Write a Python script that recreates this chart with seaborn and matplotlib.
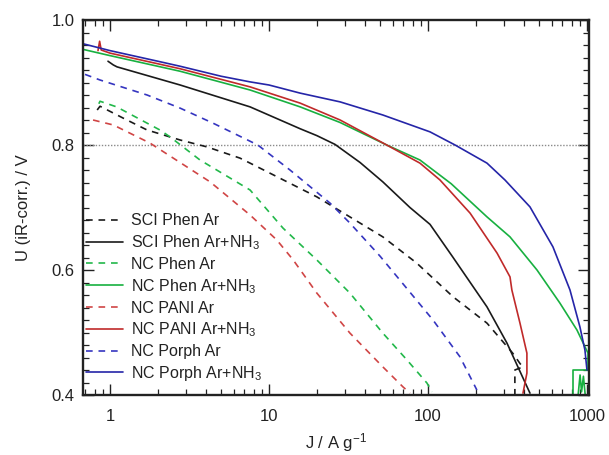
import numpy as np
import pandas as pd
import matplotlib
matplotlib.use("Agg")
import matplotlib.pyplot as plt
import matplotlib.ticker as mticker
import seaborn as sns

# ---------------- data ----------------
sci_ar_J = [0.83, 0.865, 1.21, 1.71, 2.76, 4.07, 6.57, 7.6, 20, 52, 85, 144, 235, 341, 380, 396, 352, 352]
sci_ar_U = [0.856, 0.862, 0.843, 0.824, 0.808, 0.797, 0.779, 0.771, 0.717, 0.653, 0.611, 0.557, 0.515, 0.467, 0.450, 0.445, 0.440, 0.400]

sci_nh3_J = [0.971, 1.05, 1.107, 2.76, 7.6, 15.7, 20, 26, 37.4, 52, 77, 103, 143, 235, 314, 438]
sci_nh3_U = [0.934, 0.928, 0.925, 0.896, 0.861, 0.826, 0.815, 0.801, 0.772, 0.741, 0.700, 0.673, 0.621, 0.541, 0.483, 0.403]

phen_ar_J = [0.85, 0.865, 1.1, 2.06, 2.385, 3.68, 7.6, 12.25, 20, 32.3, 52, 73.8, 98.6, 106]
phen_ar_U = [0.866, 0.870, 0.861, 0.824, 0.813, 0.776, 0.728, 0.667, 0.616, 0.563, 0.499, 0.456, 0.419, 0.405]

phen_nh3_J = [0.676, 1.0, 2.76, 7.6, 15.7, 28, 55, 89, 140, 235, 328, 485, 676, 865, 1015,
              1015, 817, 817, 880, 905, 925, 950, 975]
phen_nh3_U = [0.953, 0.943, 0.918, 0.888, 0.861, 0.836, 0.800, 0.776, 0.738, 0.685, 0.653, 0.600, 0.547, 0.504, 0.467,
              0.440, 0.440, 0.400, 0.400, 0.432, 0.405, 0.430, 0.400]

pani_ar_J = [0.782, 1.05, 1.785, 4.26, 7.6, 11.2, 14.2, 20, 32.3, 52, 69.6, 77.1]
pani_ar_U = [0.840, 0.832, 0.803, 0.741, 0.688, 0.648, 0.616, 0.563, 0.499, 0.445, 0.413, 0.403]

pani_nh3_J = [0.84, 0.86, 0.88, 1.0, 2.76, 7.6, 15.7, 28, 55, 89, 119, 184, 272, 328, 337, 379, 419, 419, 396]
pani_nh3_U = [0.951, 0.966, 0.952, 0.947, 0.922, 0.893, 0.867, 0.840, 0.800, 0.771, 0.744, 0.691, 0.627, 0.589, 0.568, 0.515, 0.467, 0.435, 0.403]

porph_ar_J = [0.696, 0.865, 1.71, 2.76, 4.44, 8.5, 13.55, 24.2, 32.3, 50, 107.5, 159, 203]
porph_ar_U = [0.913, 0.904, 0.880, 0.859, 0.835, 0.800, 0.760, 0.707, 0.675, 0.622, 0.520, 0.461, 0.408]

porph_nh3_J = [0.676, 1.0, 2.0, 2.76, 5, 7.6, 10, 15.7, 28, 52, 103, 148, 235, 305, 438, 611, 782, 903, 971, 1000]
porph_nh3_U = [0.962, 0.951, 0.934, 0.926, 0.910, 0.901, 0.896, 0.883, 0.869, 0.848, 0.821, 0.800, 0.771, 0.744, 0.701, 0.637, 0.568, 0.509, 0.472, 0.440]

labels = ["SCI Phen Ar", "SCI Phen Ar+NH$_3$",
          "NC Phen Ar", "NC Phen Ar+NH$_3$",
          "NC PANI Ar", "NC PANI Ar+NH$_3$",
          "NC Porph Ar", "NC Porph Ar+NH$_3$"]

x_ticks = [1, 10, 100, 1000]
x_ticklabels = ["1", "10", "100", "1000"]
y_ticks = [0.4, 0.6, 0.8, 1.0]

# ---------------- style ----------------
sns.set_style("ticks")
plt.rcParams["font.family"] = ["Liberation Sans", "DejaVu Sans"]
plt.rcParams["mathtext.default"] = "regular"

series = [
    (sci_ar_J, sci_ar_U, "#1a1a1a", "--"),
    (sci_nh3_J, sci_nh3_U, "#1a1a1a", "-"),
    (phen_ar_J, phen_ar_U, "#22b84a", "--"),
    (phen_nh3_J, phen_nh3_U, "#18b040", "-"),
    (pani_ar_J, pani_ar_U, "#d04545", "--"),
    (pani_nh3_J, pani_nh3_U, "#c02a2a", "-"),
    (porph_ar_J, porph_ar_U, "#3535c0", "--"),
    (porph_nh3_J, porph_nh3_U, "#2525a8", "-"),
]

fig = plt.figure(figsize=(6.09, 4.55), dpi=100)
ax = fig.add_axes([83 / 609, 60 / 455, 506 / 609, 375 / 455])

ax.axhline(0.8, color="#8a8a8a", lw=1.0, ls=(0, (1, 1.2)), zorder=1)

for (J, U, c, ls), lab in zip(series, labels):
    df = pd.DataFrame({"J": J, "U": U})
    line_ax = sns.lineplot(data=df, x="J", y="U", ax=ax, color=c, sort=False,
                           estimator=None, label=lab, lw=1.2)
    ln = line_ax.get_lines()[-1]
    if ls == "--":
        ln.set_dashes((4, 3.5))

ax.set_xscale("log")
ax.set_xlim(0.676, 1030)
ax.set_ylim(0.4, 1.0)

ax.set_xticks(x_ticks)
ax.set_xticklabels(x_ticklabels)
ax.xaxis.set_minor_locator(mticker.LogLocator(base=10, subs=np.arange(2, 10), numticks=20))
ax.xaxis.set_minor_formatter(mticker.NullFormatter())
ax.set_yticks(y_ticks)
ax.yaxis.set_major_formatter(mticker.FormatStrFormatter("%.1f"))
ax.yaxis.set_minor_locator(mticker.MultipleLocator(0.02))

ax.tick_params(which="both", direction="in", top=True, right=True, colors="#222222",
               labelcolor="#222222")
ax.tick_params(which="major", length=8, width=1.0, labelsize=12)
ax.tick_params(which="minor", length=4, width=0.9)
ax.tick_params(axis="x", which="major", pad=10)
ax.tick_params(axis="y", which="major", pad=6)

for sp in ax.spines.values():
    sp.set_linewidth(1.7)
    sp.set_color("#222222")

ax.set_xlabel("J / A g$^{-1}$", fontsize=12, color="#222222")
ax.set_ylabel("U (iR-corr.) / V", fontsize=12, color="#222222")
ax.xaxis.set_label_coords(0.5, -0.095)
ax.yaxis.set_label_coords(-0.102, 0.5)

leg = ax.legend(loc="upper left", bbox_to_anchor=(0.0, 0.493), frameon=False,
                fontsize=11.5, handlelength=2.3, handletextpad=0.5,
                labelspacing=0.31, borderaxespad=0.0, borderpad=0.2)
for t in leg.get_texts():
    t.set_color("#222222")

fig.savefig("out.png", dpi=100)
